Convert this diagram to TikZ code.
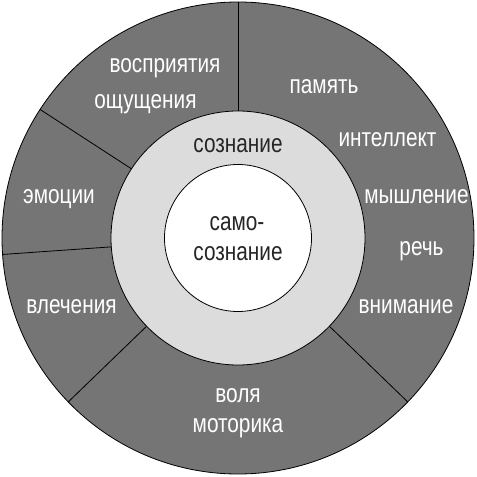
\documentclass[tikz,border=0pt]{standalone}
\usepackage{fontspec}
\setmainfont{Liberation Sans}[FakeStretch=0.8]
\definecolor{sectorgray}{HTML}{757575}
\definecolor{ringgray}{HTML}{DCDCDC}
\tikzset{
  outerlabel/.style={text=white, font=\fontsize{26}{28}\selectfont, anchor=base, inner sep=0pt},
  innerlabel/.style={text=black!85, font=\fontsize{26}{28}\selectfont, anchor=base, inner sep=0pt}
}
\begin{document}
\begin{tikzpicture}[x=1pt,y=1pt,line width=0.8pt]
        \useasboundingbox (-238,-239) rectangle (239,238);

        % Draw the outer disc
        \draw[fill=sectorgray] (0,0) circle (236);

        % Draw the dividing lines
        \draw (90:127) -- (90:236);
        \draw (147:127) -- (147:236);
        \draw (184:127) -- (184:236);
        \draw (224:127) -- (224:236);
        \draw (316:127) -- (316:236);

        % Draw the ring and the centre
        \draw[fill=ringgray] (0,0) circle (127);
        \draw[fill=white] (0,0) circle (73.5);

        % Add labels
        \node[outerlabel] (perception) at (-73,165) {восприятия};
        \node[outerlabel] (sensation) at (-92.5,130) {ощущения};
        \node[outerlabel] (emotions) at (-179,35) {эмоции};
        \node[outerlabel] (drives) at (-166.5,-75) {влечения};
        \node[outerlabel] (will) at (0,-164) {воля};
        \node[outerlabel] (motor) at (0,-194) {моторика};
        \node[outerlabel] (memory) at (86,145) {память};
        \node[outerlabel] (intellect) at (149.5,92) {интеллект};
        \node[outerlabel] (thinking) at (178.5,35) {мышление};
        \node[outerlabel] (speech) at (183.5,-17) {речь};
        \node[outerlabel] (attention) at (168,-75) {внимание};
        \node[innerlabel] (consc) at (0,85) {сознание};
        \node[innerlabel] (selfa) at (-1,8) {само-};
        \node[innerlabel] (selfb) at (0,-22) {сознание};
    \end{tikzpicture}
\end{document}
